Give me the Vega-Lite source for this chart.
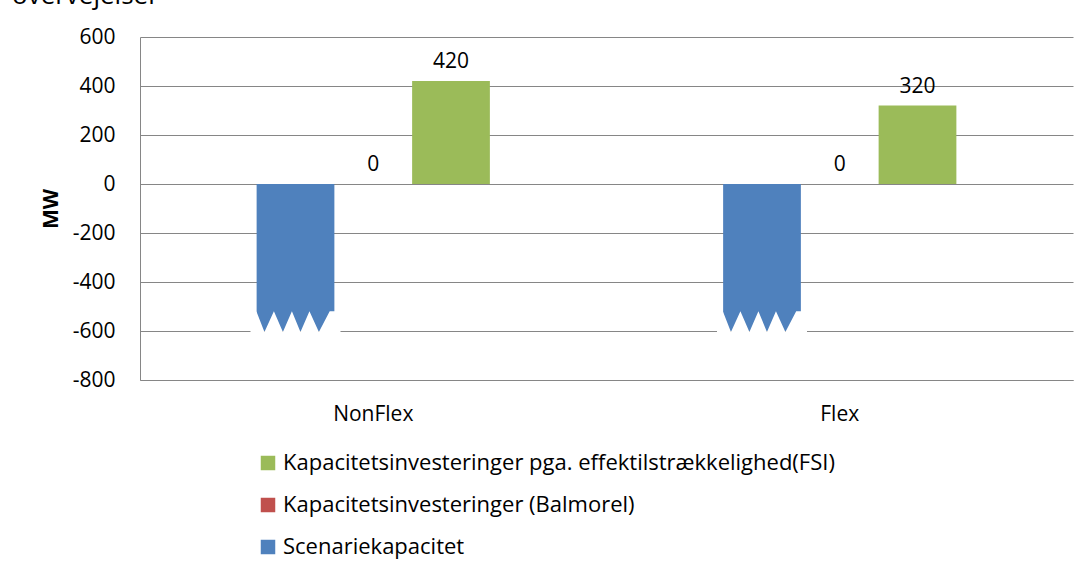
{
  "$schema": "https://vega.github.io/schema/vega-lite/v6.json",
  "width": 933,
  "height": 343,
  "autosize": {"type": "none"},
  "padding": {"left": 140, "top": 37, "right": 6, "bottom": 188},
  "background": "white",
  "title": {
    "text": "overvejelser",
    "orient": "top",
    "anchor": "start",
    "frame": "group",
    "baseline": "alphabetic",
    "offset": 22,
    "dx": -128,
    "dy": 26,
    "font": "Open Sans",
    "fontSize": 26,
    "fontWeight": "normal",
    "color": "black"
  },
  "config": {
    "font": "Open Sans",
    "view": {"stroke": null},
    "axis": {
      "labelFont": "Open Sans",
      "labelFontSize": 21,
      "labelColor": "black",
      "domainColor": "#868686",
      "gridColor": "#868686",
      "ticks": false
    }
  },
  "data": {
    "values": [
      {"scenarie": "NonFlex", "serie": "Scenariekapacitet", "MW": -600},
      {"scenarie": "NonFlex", "serie": "Kapacitetsinvesteringer (Balmorel)", "MW": 0},
      {"scenarie": "NonFlex", "serie": "Kapacitetsinvesteringer pga. effektilstrækkelighed(FSI)", "MW": 420},
      {"scenarie": "Flex", "serie": "Scenariekapacitet", "MW": -600},
      {"scenarie": "Flex", "serie": "Kapacitetsinvesteringer (Balmorel)", "MW": 0},
      {"scenarie": "Flex", "serie": "Kapacitetsinvesteringer pga. effektilstrækkelighed(FSI)", "MW": 320}
    ]
  },
  "encoding": {
    "x": {
      "field": "scenarie",
      "type": "nominal",
      "sort": ["NonFlex", "Flex"],
      "scale": {"paddingInner": 0.5, "paddingOuter": 0.25},
      "axis": {"title": null, "labelAngle": 0, "labelPadding": 23, "domain": true, "grid": false}
    },
    "xOffset": {
      "field": "serie",
      "type": "nominal",
      "sort": ["Scenariekapacitet", "Kapacitetsinvesteringer (Balmorel)", "Kapacitetsinvesteringer pga. effektilstrækkelighed(FSI)"],
      "scale": {"paddingInner": 0, "paddingOuter": 0}
    },
    "y": {
      "field": "MW",
      "type": "quantitative",
      "scale": {"domain": [-800, 600], "nice": false, "zero": false},
      "axis": {
        "title": "MW",
        "titleFont": "Open Sans",
        "titleFontSize": 21,
        "titleFontWeight": "bold",
        "titleColor": "black",
        "titleX": -83,
        "titleBaseline": "alphabetic",
        "values": [-800, -600, -400, -200, 0, 200, 400, 600],
        "labelExpr": "'' + datum.value",
        "labelPadding": 25,
        "grid": true,
        "domain": true
      }
    }
  },
  "layer": [
    {
      "mark": {"type": "bar"},
      "encoding": {
        "color": {
          "field": "serie",
          "type": "nominal",
          "scale": {
            "domain": ["Kapacitetsinvesteringer pga. effektilstrækkelighed(FSI)", "Kapacitetsinvesteringer (Balmorel)", "Scenariekapacitet"],
            "range": ["#9BBB59", "#C0504D", "#4F81BD"]
          },
          "legend": {
            "title": null,
            "orient": "none",
            "direction": "vertical",
            "legendX": 117,
            "legendY": 415,
            "symbolType": "square",
            "symbolSize": 210,
            "symbolStrokeWidth": 0,
            "symbolOpacity": 1,
            "labelFont": "Open Sans",
            "labelFontSize": 22,
            "labelColor": "black",
            "labelOffset": 4,
            "rowPadding": 20,
            "labelLimit": 800
          }
        }
      }
    },
    {
      "transform": [{"filter": "datum.serie === 'Scenariekapacitet'"}],
      "mark": {
        "type": "point",
        "filled": true,
        "color": "white",
        "opacity": 1,
        "strokeWidth": 0,
        "size": 8100,
        "shape": "M-1,0.04 L-1,-0.1 L-0.87,-0.44 L-0.69,0.02 L-0.48,-0.44 L-0.28,0.02 L-0.08,-0.44 L0.11,0.02 L0.31,-0.44 L0.52,0.02 L0.76,-0.44 L0.9,-0.44 L1,-0.1 L1,0.04 Z"
      },
      "encoding": {}
    },
    {
      "transform": [{"filter": "datum.serie !== 'Scenariekapacitet'"}],
      "mark": {
        "type": "text",
        "font": "Open Sans",
        "fontSize": 21,
        "color": "black",
        "baseline": "alphabetic",
        "dy": -13
      },
      "encoding": {
        "text": {"field": "MW", "type": "quantitative"}
      }
    }
  ]
}
